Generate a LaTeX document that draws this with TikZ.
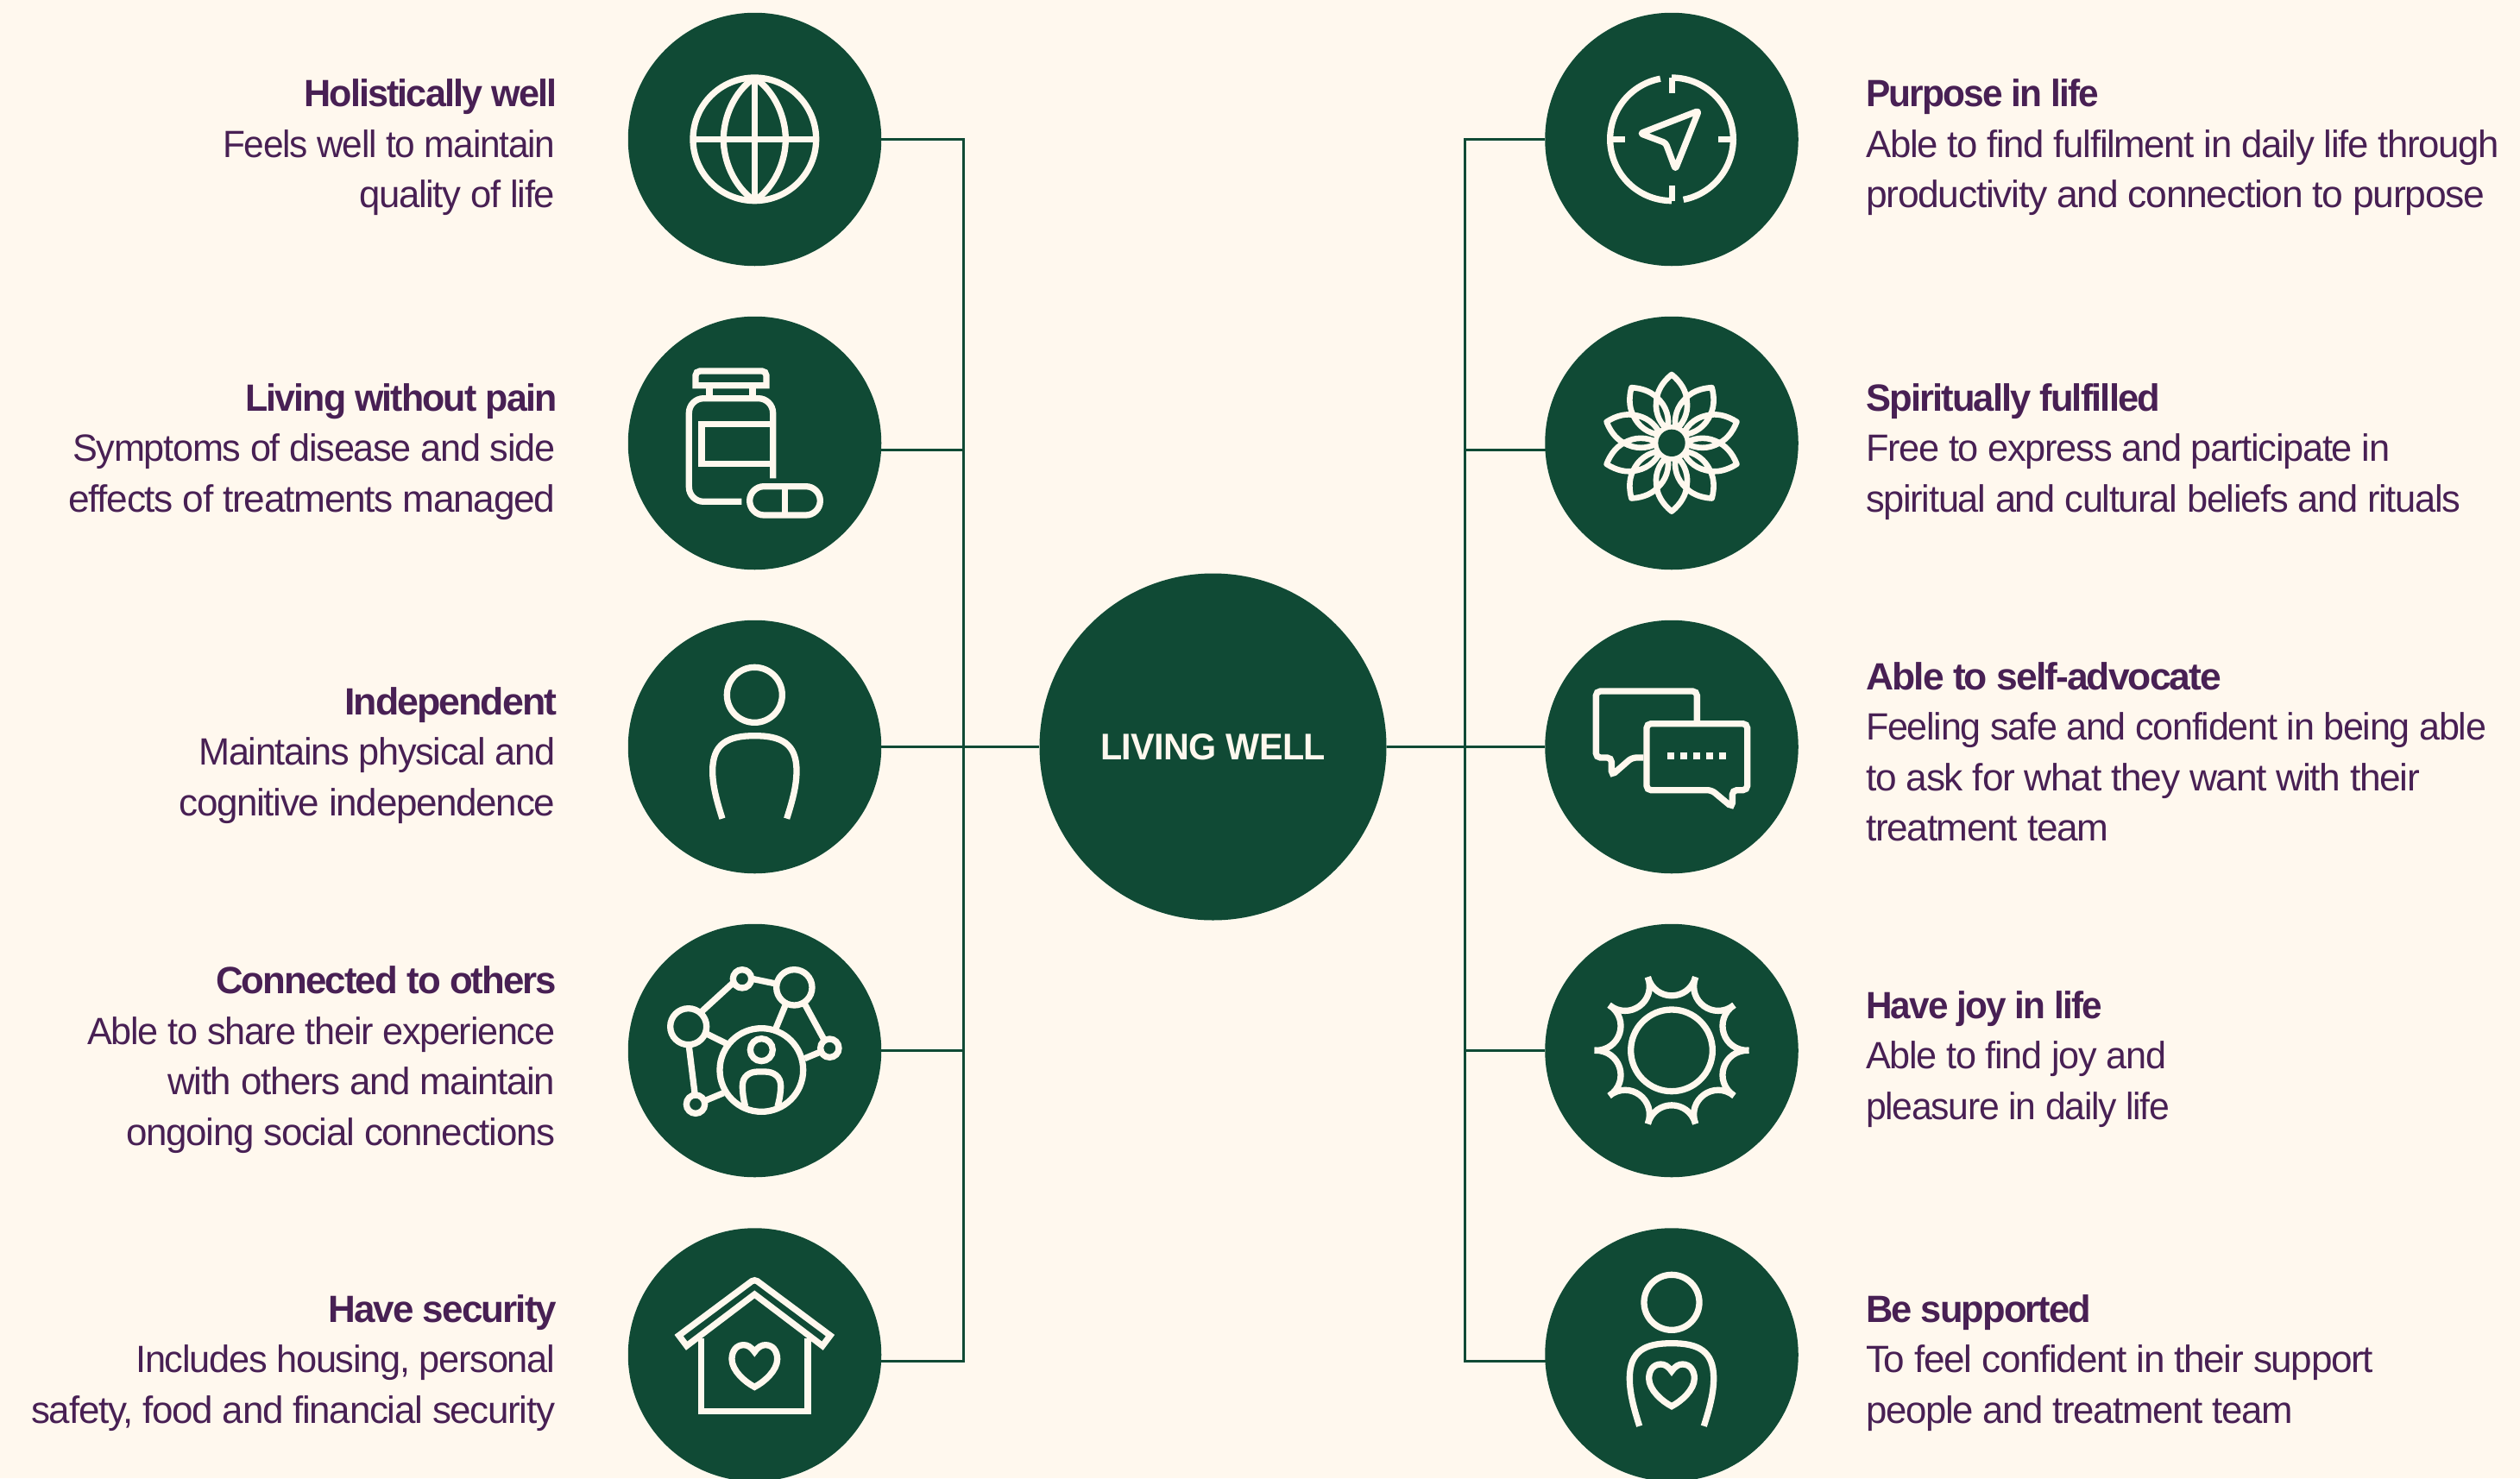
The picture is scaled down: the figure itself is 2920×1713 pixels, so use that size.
\documentclass[tikz,border=0pt]{standalone}
\usepackage{graphicx}
\usepackage{fontspec}
\setmainfont{Liberation Sans}[LetterSpace=-3.0,BoldFeatures={LetterSpace=-4.4}]
\newfontfamily\hubfont{Liberation Sans}[LetterSpace=-1.4]
\definecolor{bg}{RGB}{255,248,238}
\definecolor{grn}{RGB}{16,74,53}
\definecolor{cream}{RGB}{255,248,238}
\definecolor{plum}{RGB}{72,32,84}
\tikzset{
  disc/.style={circle,fill=grn,draw=none,inner sep=0pt,minimum size=293.5pt},
  hubdisc/.style={circle,fill=grn,draw=none,inner sep=0pt,minimum size=402pt,text=cream,font=\hubfont\bfseries\fontsize{43}{50}\selectfont},
  wire/.style={draw=grn,line width=3pt},
  icon/.style={draw=cream,line width=7.3pt},
  crop/.style={x=0.33333pt,y=-0.33333pt},
  leftlabel/.style={anchor=base east,align=right,text=plum,inner sep=0pt,font=\fontsize{44}{58.5}\selectfont},
  rightlabel/.style={anchor=base west,align=left,text=plum,inner sep=0pt,font=\fontsize{44}{58.5}\selectfont}
}
% set one line of text to the width that it has in the reference
\newcommand{\fitline}[2]{\setbox0=\hbox{#2}\pgfmathsetmacro{\fitratio}{#1/\the\wd0}\scalebox{\fitratio}[1]{\box0}}
\newcommand{\heartshape}{(523,500) .. controls (510,482) and (498,476) .. (485,476) .. controls (460,476) and (444,497) .. (444,525) .. controls (444,565) and (490,605) .. (523,622) .. controls (556,605) and (602,565) .. (602,525) .. controls (602,497) and (586,476) .. (561,476) .. controls (548,476) and (536,482) .. (523,500) -- cycle}
\newcommand{\personfig}{
  \draw[icon] (523,316) circle [radius=96];
  \draw[icon] (411,746) .. controls (390,680) and (377,630) .. (377,580) .. controls (377,485) and (430,458) .. (523,458) .. controls (616,458) and (669,485) .. (669,580) .. controls (669,630) and (656,680) .. (635,746);
}
\begin{document}
\begin{tikzpicture}[x=1pt,y=-1pt]
\useasboundingbox (0,0) rectangle (2920,1713);
\fill[bg] (0,0) rectangle (2920,1713);

% circles
\node[disc] (L1) at (874.5,161.5) {};
\node[disc] (L2) at (874.5,513.5) {};
\node[disc] (L3) at (874.5,865.5) {};
\node[disc] (L4) at (874.5,1217.5) {};
\node[disc] (L5) at (874.5,1570) {};
\node[disc] (R1) at (1937,161.5) {};
\node[disc] (R2) at (1937,513.5) {};
\node[disc] (R3) at (1937,865.5) {};
\node[disc] (R4) at (1937,1217.5) {};
\node[disc] (R5) at (1937,1570) {};
\node[hubdisc] (C) at (1405.5,865.5) {\fitline{261}{LIVING WELL}};

% connectors
\coordinate (jl1) at (1116.5,161.5);
\coordinate (jl2) at (1116.5,521.5);
\coordinate (jl5) at (1116.5,1577.5);
\coordinate (jr1) at (1697,161.5);
\coordinate (jr2) at (1697,521.5);
\coordinate (jr5) at (1697,1577.5);
\draw[wire] (L1.east) -- (jl1) -- (jl5) -- (L5.center |- jl5);
\draw[wire] (L2.center |- jl2) -- (jl2);
\draw[wire] (L3) -- (C);
\draw[wire] (L4) -- (L4.center -| jl1);
\draw[wire] (R1.west) -- (jr1) -- (jr5) -- (R5.center |- jr5);
\draw[wire] (R2.center |- jr2) -- (jr2);
\draw[wire] (C) -- (R3);
\draw[wire] (R4) -- (R4.center -| jr1);

% labels
\node[leftlabel] (tl1) at (643.5,240.5) {\fitline{291}{\textbf{Holistically well}}\\\fitline{385}{Feels well to maintain}\\\fitline{227}{quality of life}};
\node[leftlabel] (tl2) at (643.5,593) {\fitline{359}{\textbf{Living without pain}}\\\fitline{559}{Symptoms of disease and side}\\\fitline{564}{effects of treatments managed}};
\node[leftlabel] (tl3) at (643.5,945) {\fitline{244}{\textbf{Independent}}\\\fitline{413}{Maintains physical and}\\\fitline{436}{cognitive independence}};
\node[leftlabel] (tl4) at (643.5,1327) {\fitline{393}{\textbf{Connected to others}}\\\fitline{542}{Able to share their experience}\\\fitline{449}{with others and maintain}\\\fitline{497}{ongoing social connections}};
\node[leftlabel] (tl5) at (643.5,1649) {\fitline{263}{\textbf{Have security}}\\\fitline{486}{Includes housing, personal}\\\fitline{607}{safety, food and financial security}};
\node[rightlabel] (tr1) at (2162,240.5) {\fitline{268}{\textbf{Purpose in life}}\\\fitline{734}{Able to find fulfilment in daily life through}\\\fitline{717}{productivity and connection to purpose}};
\node[rightlabel] (tr2) at (2162,593) {\fitline{339}{\textbf{Spiritually fulfilled}}\\\fitline{607}{Free to express and participate in}\\\fitline{689}{spiritual and cultural beliefs and rituals}};
\node[rightlabel] (tr3) at (2162,974.5) {\fitline{410}{\textbf{Able to self-advocate}}\\\fitline{719}{Feeling safe and confident in being able}\\\fitline{642}{to ask for what they want with their}\\\fitline{281}{treatment team}};
\node[rightlabel] (tr4) at (2162,1297) {\fitline{272}{\textbf{Have joy in life}}\\\fitline{348}{Able to find joy and}\\\fitline{352}{pleasure in daily life}};
\node[rightlabel] (tr5) at (2162,1649) {\fitline{259}{\textbf{Be supported}}\\\fitline{588}{To feel confident in their support}\\\fitline{495}{people and treatment team}};

% globe
\begin{scope}[shift={(700,0)},crop]
  \draw[icon] (523,484) circle [radius=214];
  \draw[icon] (309,484) -- (737,484);
  \draw[icon] (523,270) -- (523,698);
  \draw[icon] (523,270) .. controls (450,320) and (415,410) .. (415,484) .. controls (415,558) and (450,648) .. (523,698);
  \draw[icon] (523,270) .. controls (596,320) and (631,410) .. (631,484) .. controls (631,558) and (596,648) .. (523,698);
\end{scope}

% bottle
\begin{scope}[shift={(700,350)},crop]
  \draw[icon] (318,290) [rounded corners=5pt] -- (318,240) -- (564,240) [sharp corners] -- (564,290) -- cycle;
  \draw[icon] (366,290) -- (366,335);
  \draw[icon] (516,290) -- (516,335);
  \draw[icon,rounded corners=17pt] (587,613) -- (587,335) -- (295,335) -- (295,694) -- (478,694);
  \draw[icon] (587,424) -- (339,424) -- (339,563) -- (587,563);
  \draw[icon,rounded corners=16.6pt] (506,641) rectangle (751,741);
  \draw[icon] (628,641) -- (628,741);
\end{scope}

% person
\begin{scope}[shift={(700,700)},crop]
  \personfig
\end{scope}

% network
\begin{scope}[shift={(700,1050)},crop]
  \draw[icon] (293,419) circle [radius=63];
  \draw[icon] (480,253) circle [radius=32];
  \draw[icon] (661,283) circle [radius=62];
  \draw[icon] (784,494) circle [radius=32];
  \draw[icon] (318,689) circle [radius=32];
  \draw[icon] (547,570) circle [radius=145];
  \draw[icon] (547,500) circle [radius=39];
  \draw[icon] (491,697) .. controls (484,670) and (481,650) .. (481,625) .. controls (481,592) and (505,576) .. (535,576) -- (559,576) .. controls (589,576) and (614,592) .. (614,625) .. controls (614,650) and (610,670) .. (603,697);
  \draw[icon] (340,366) -- (447,268);
  \draw[icon] (515,253) -- (597,270);
  \draw[icon] (630,345) -- (597,425);
  \draw[icon] (697,340) -- (765,465);
  \draw[icon] (697,530) -- (752,507);
  \draw[icon] (358,445) -- (425,478);
  \draw[icon] (295,488) -- (315,650);
  \draw[icon] (355,675) -- (415,650);
\end{scope}

% house
\begin{scope}[shift={(700,1400)},crop]
  \draw[icon] (287,479) -- (260,443) [rounded corners=4pt] -- (523,247) [sharp corners] -- (786,443) -- (759,479) -- (523,300) -- cycle;
  \draw[icon] (338,452) -- (338,707) -- (708,707) -- (708,452);
  \draw[icon] \heartshape;
\end{scope}

% compass
\begin{scope}[shift={(1780,0)},crop]
  \draw[icon] (471,484) ++(259.4:214) arc [start angle=259.4,end angle=90,radius=214];
  \draw[icon] (471,484) ++(79:214) arc [start angle=79,end angle=-90,radius=214];
  \draw[icon] (471.5,270) -- (471.5,325);
  \draw[icon] (471.5,698) -- (471.5,645);
  \draw[icon] (257,484) -- (310,484);
  \draw[icon] (685,484) -- (632,484);
  \draw[icon,line join=round,rounded corners=3pt] (565,385) -- (362,464) -- (450,497) -- (484,588) -- cycle;
\end{scope}

% flower
\begin{scope}[shift={(1780,350)},crop]
  \begin{scope}[shift={(471,490)}]
    \foreach \a in {0,36,...,324} {
      \draw[icon,line width=6.6pt,line join=round,rotate=\a] (0,-48) .. controls (-75,-110) and (-65,-185) .. (0,-238) .. controls (65,-185) and (75,-110) .. (0,-48) -- cycle;
    }
    \foreach \a in {18,54,...,342} {
      \draw[icon,line width=6.6pt,line join=round,fill=grn,rotate=\a] (0,-48) .. controls (-22,-85) and (-22,-130) .. (0,-165) .. controls (22,-130) and (22,-85) .. (0,-48) -- cycle;
    }
    \fill[cream] (0,0) circle [radius=64];
    \fill[grn] (0,0) circle [radius=47];
  \end{scope}
\end{scope}

% chat
\begin{scope}[shift={(1780,700)},crop]
  \draw[icon,rounded corners=5pt] (559,408) -- (559,303) -- (208,303) -- (208,534) -- (262,534) -- (262,596) -- (333,534) -- (373,534);
  \draw[icon,rounded corners=5pt] (610,647) -- (384,647) -- (384,416) -- (734,416) -- (734,647) -- (682,647) -- (682,707) -- cycle;
  \foreach \d in {467,513,558,603,648} {
    \fill[cream] (\d-12,515) rectangle (\d+12,539);
  }
\end{scope}

% sun
\begin{scope}[shift={(1780,1050)},crop]
  \draw[icon] (471,502) circle [radius=142];
  \begin{scope}[shift={(471,502)}]
    \foreach \a in {0,36,...,324} {
      \draw[icon,rotate=\a] (-83,-255) .. controls (-58,-169) and (58,-169) .. (83,-255);
    }
  \end{scope}
\end{scope}

% person with heart
\begin{scope}[shift={(1780,1400)},crop]
  \begin{scope}[shift={(-52,12)}]
    \personfig
  \end{scope}
  \begin{scope}[shift={(-52,67)}]
    \draw[icon] \heartshape;
  \end{scope}
\end{scope}
\end{tikzpicture}
\end{document}
